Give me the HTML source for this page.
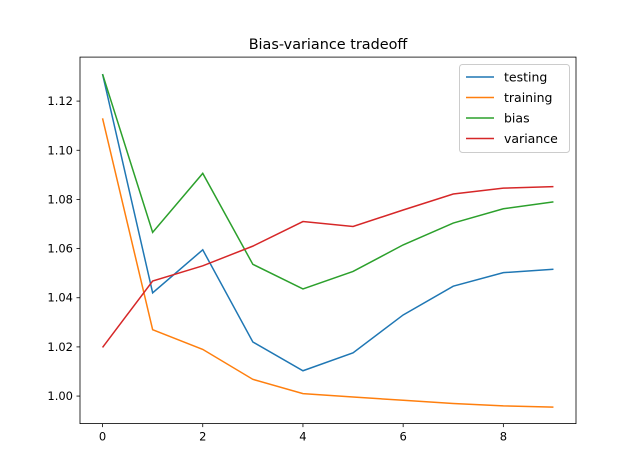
<!DOCTYPE html>
<html><head><meta charset="utf-8"><style>body{margin:0;background:#fff}svg{display:block;font-family:"DejaVu Sans","Liberation Sans",sans-serif}</style></head>
<body>
<svg id="chart" width="640" height="476"></svg>
<script>
const xs=[0,1,2,3,4,5,6,7,8,9];
const testing=[1.131,1.042,1.0595,1.022,1.0103,1.0176,1.033,1.0447,1.0502,1.0516];
const training=[1.113,1.027,1.019,1.0068,1.001,0.9996,0.9983,0.997,0.996,0.9955];
const bias=[1.131,1.0666,1.0906,1.0536,1.0436,1.0507,1.0615,1.0704,1.0762,1.079];
const variance=[1.0198,1.0468,1.053,1.061,1.071,1.069,1.0757,1.0822,1.0846,1.0852];
const yTicks=[1.00,1.02,1.04,1.06,1.08,1.10,1.12];
const xTicks=[0,2,4,6,8];
const seriesNames=["testing","training","bias","variance"];
const colors=["#1f77b4","#ff7f0e","#2ca02c","#d62728"];
const L=80,R=576,T=57.1,B=423.6,xmin=-0.45,xmax=9.45,ymin=0.9888,ymax=1.1379;
const X=v=>L+(v-xmin)/(xmax-xmin)*(R-L);
const Y=v=>B-(v-ymin)/(ymax-ymin)*(B-T);
const svg=document.getElementById('chart');const NS="http://www.w3.org/2000/svg";
function mk(t,a,p){const e=document.createElementNS(NS,t);for(const k in a)e.setAttribute(k,a[k]);(p||svg).appendChild(e);return e;}
const title=mk('text',{x:(L+R)/2,y:49,'text-anchor':'middle','font-size':14.4});title.textContent="Bias-variance tradeoff";

yTicks.forEach(v=>{const g=mk('g',{});
mk('line',{x1:L-3.5,x2:L,y1:Y(v),y2:Y(v),stroke:'#000','stroke-width':0.8},g);
const t=mk('text',{x:L-7,y:Y(v)+4,'text-anchor':'end','font-size':11.5},g);t.textContent=v.toFixed(2);});
xTicks.forEach(v=>{const g=mk('g',{});
mk('line',{x1:X(v),x2:X(v),y1:B,y2:B+3.5,stroke:'#000','stroke-width':0.8},g);
const t=mk('text',{x:X(v),y:B+17,'text-anchor':'middle','font-size':11.5},g);t.textContent=v;});
[testing,training,bias,variance].forEach((s,i)=>{const p=mk('polyline',{points:s.map((v,j)=>X(xs[j])+','+Y(v)).join(' '),fill:'none',stroke:colors[i],'stroke-width':1.5});
});
const ax=mk('rect',{x:L,y:T,width:R-L,height:B-T,fill:'none',stroke:'#000','stroke-width':0.8});

const lg=mk('g',{});
mk('rect',{x:459.5,y:64.5,width:110,height:88,rx:3,fill:'#fff','fill-opacity':0.8,stroke:'#ccc'},lg);
seriesNames.forEach((n,i)=>{const y=77+i*20.5;const e=mk('g',{},lg);
mk('line',{x1:466,x2:494,y1:y,y2:y,stroke:colors[i],'stroke-width':1.5},e);
const t=mk('text',{x:504,y:y+4.5,'font-size':12.5},e);t.textContent=n;});
</script>
</body></html>
